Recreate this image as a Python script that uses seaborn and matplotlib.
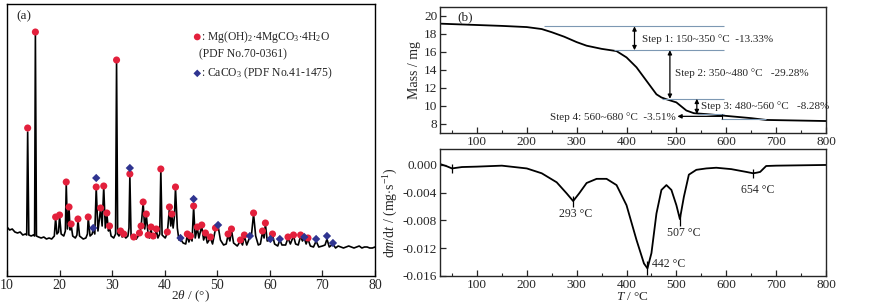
import numpy as np
import pandas as pd
import matplotlib
matplotlib.use("Agg")
import matplotlib.pyplot as plt
import seaborn as sns

# ---------------- data: XRD (a) ----------------
xrd_2theta = [10.0, 10.5, 11.0, 11.5, 12.0, 12.5, 13.0, 13.5, 13.75, 13.93, 14.15, 14.6, 15.0, 15.25, 15.4, 15.6,
              16.0, 16.5, 17.0, 17.5, 18.0, 18.5, 19.0, 19.25, 19.5, 19.8, 20.0, 20.3, 20.8, 21.1, 21.27, 21.5,
              21.8, 22.0, 22.2, 22.5, 23.0, 23.3, 23.5, 23.8, 24.5, 25.0, 25.3, 25.45, 25.8, 26.2, 26.4, 26.7,
              26.97, 27.3, 27.8, 28.1, 28.4, 28.7, 29.0, 29.3, 29.5, 29.8, 30.3, 30.65, 30.84, 31.05, 31.3,
              31.6, 31.9, 32.2, 32.6, 33.0, 33.2, 33.37, 33.6, 34.1, 34.6, 35.2, 35.5, 35.9, 36.2, 36.5, 36.85,
              37.1, 37.4, 37.6, 37.8, 38.1, 38.4, 38.7, 39.05, 39.26, 39.5, 40.1, 40.5, 40.9, 41.15, 41.35,
              41.6, 41.85, 42.05, 42.4, 42.7, 43.0, 43.5, 44.0, 44.3, 44.6, 44.9, 45.2, 45.5, 45.8, 46.2, 46.5,
              47.05, 47.4, 47.75, 48.1, 48.7, 49.1, 49.65, 50.15, 50.6, 51.2, 51.7, 52.05, 52.4, 52.7, 53.1,
              53.8, 54.4, 54.8, 55.15, 55.6, 56.2, 56.5, 56.9, 57.3, 57.8, 58.2, 58.6, 58.9, 59.15, 59.5, 60.1,
              60.5, 60.9, 61.5, 61.9, 62.3, 63.0, 63.45, 63.9, 64.5, 64.9, 65.4, 65.85, 66.2, 66.55, 66.9,
              67.25, 67.7, 68.3, 68.8, 69.3, 70.0, 70.5, 70.86, 71.3, 72.0, 72.5, 73.0, 73.5, 74.0, 74.5, 75.0,
              75.5, 76.0, 76.5, 77.0, 77.5, 78.0, 78.5, 79.0, 79.5, 80.0]
xrd_intensity = [49, 46, 47, 44, 43, 44, 41, 42, 41, 144, 41, 40, 41, 40, 241, 40,
                 39, 38, 39, 37, 38, 37, 40, 58, 42, 44, 60, 42, 40, 45, 92, 47,
                 68, 46, 51, 40, 38, 41, 56, 40, 37, 38, 42, 58, 40, 42, 47, 42,
                 88, 45, 67, 50, 89, 48, 62, 45, 49, 40, 38, 42, 214, 42, 40,
                 44, 39, 41, 38, 40, 48, 100, 40, 38, 37, 42, 49, 73, 47, 61, 41,
                 38, 48, 39, 40, 38, 46, 38, 42, 106, 41, 38, 43, 68, 50, 61,
                 48, 60, 88, 48, 36, 37, 33, 32, 41, 34, 39, 35, 69, 38, 48, 38,
                 50, 36, 42, 33, 38, 32, 47, 50, 36, 31, 32, 41, 35, 46, 33,
                 30, 35, 31, 40, 31, 39, 41, 62, 40, 31, 32, 44, 38, 52, 35, 36,
                 41, 32, 30, 36, 31, 31, 38, 32, 40, 32, 31, 40, 35, 38, 32,
                 37, 30, 29, 35, 29, 30, 31, 37, 29, 32, 28, 30, 29, 28, 29, 30,
                 29, 28, 29, 30, 28, 29, 29, 28, 28, 29]

mg_peaks_2theta = [13.93, 15.4, 19.25, 20.0, 21.27, 21.8, 22.2, 23.5, 25.45, 26.97, 27.8, 28.4, 29.0, 29.5,
                   30.84, 31.6, 32.2, 33.37, 34.1, 35.2, 35.5, 35.9, 36.5, 36.85, 37.4, 37.8, 38.4, 39.26,
                   40.5, 40.9, 41.35, 42.05, 44.3, 44.9, 45.5, 46.2, 47.05, 47.75, 48.7, 49.65, 52.05,
                   52.7, 54.4, 55.15, 56.9, 58.6, 59.15, 60.5, 63.45, 64.5, 65.85, 67.25]
mg_peaks_int = [148, 244, 59, 61, 94, 69, 52, 57, 59, 89, 68, 90, 63, 50,
                216, 45, 42, 102, 39, 43, 50, 74, 62, 41, 49, 40, 47, 107,
                44, 69, 62, 89, 42, 40, 70, 49, 51, 43, 39, 48, 42,
                47, 36, 41, 63, 45, 53, 42, 39, 41, 41, 38]
ca_peaks_2theta = [26.4, 26.97, 33.37, 43.0, 45.5, 50.15, 56.2, 60.1, 61.9, 66.55, 68.8, 70.86, 72.0]
ca_peaks_int = [48, 98, 108, 38, 77, 51, 40, 37, 37, 39, 37, 40, 33]

# ---------------- data: TG (b, top) ----------------
tg_T = [26, 50, 100, 150, 200, 230, 250, 275, 300, 320, 350, 380, 400, 420, 440, 460, 470, 480,
        500, 520, 535, 560, 600, 650, 680, 700, 750, 800]
tg_mass = [19.15, 19.1, 19.0, 18.9, 18.77, 18.55, 18.2, 17.7, 17.1, 16.7, 16.35, 16.1, 15.4, 14.3,
           12.8, 11.3, 10.95, 10.75, 10.4, 9.5, 9.2, 9.1, 8.9, 8.65, 8.45, 8.43, 8.38, 8.33]

step_levels = [18.85, 16.2, 10.8, 9.1]
step_line_start = [234, 375, 472, 543]
step_labels = ["Step 1: 150~350 °C  -13.33%", "Step 2: 350~480 °C   -29.28%",
               "Step 3: 480~560 °C   -8.28%", "Step 4: 560~680 °C  -3.51%"]

# ---------------- data: DTG (b, bottom) ----------------
dtg_T = [26, 40, 50, 60, 70, 100, 150, 200, 230, 260, 280, 293, 305, 320, 340, 360, 380, 400, 420,
         435, 442, 450, 460, 470, 480, 490, 500, 507, 515, 525, 540, 560, 580, 610, 640, 654, 662,
         668, 680, 700, 750, 800]
dtg_val = [0.00014, -0.0002, -0.0005, -0.0004, -0.0003, -0.00024, -0.0001, -0.0005, -0.0012, -0.0025,
           -0.0041, -0.0052, -0.0041, -0.0026, -0.002, -0.002, -0.0029, -0.0058, -0.0108,
           -0.0142, -0.0149, -0.0127, -0.0070, -0.0036, -0.0029, -0.0036, -0.0058, -0.0078, -0.0046,
           -0.0014, -0.0007, -0.0005, -0.0004, -0.0006, -0.001, -0.0012, -0.0011,
           -0.001, -0.00015, -0.0001, -0.00005, 0.0]
dtg_peak_T = [293, 442, 507, 654]
dtg_peak_labels = ["293 °C", "442 °C", "507 °C", "654 °C"]

# ---------------- style ----------------
sns.set_theme(style="ticks")
plt.rcParams["font.family"] = ["Liberation Serif", "DejaVu Serif"]
plt.rcParams["mathtext.fontset"] = "custom"
plt.rcParams["mathtext.rm"] = "Liberation Serif"
plt.rcParams["mathtext.it"] = "Liberation Serif:italic"
plt.rcParams["xtick.direction"] = "in"
plt.rcParams["ytick.direction"] = "in"
plt.rcParams["axes.linewidth"] = 1.0

W, H = 878, 306
fig = plt.figure(figsize=(W / 100, H / 100), dpi=100)
fig.patch.set_facecolor("white")

def rect(l, t, r, b):
    return [l / W, (H - b) / H, (r - l) / W, (b - t) / H]

RED = "#e3203c"
BLUE = "#2f3490"

# ---- (a) XRD ----
axa = fig.add_axes(rect(7, 4, 375, 276))
xrd = pd.DataFrame({"x": xrd_2theta, "y": xrd_intensity})
sns.lineplot(data=xrd, x="x", y="y", ax=axa, color="black", lw=1.2, sort=False, estimator=None)
sns.scatterplot(x=mg_peaks_2theta, y=mg_peaks_int, ax=axa, color=RED, marker="o", s=26,
                edgecolor="none", zorder=5)
sns.scatterplot(x=ca_peaks_2theta, y=ca_peaks_int, ax=axa, color=BLUE, marker="D", s=18,
                edgecolor="none", zorder=6)
axa.set_xlim(10, 80)
axa.set_ylim(0, 272)
axa.set_xticks([10, 20, 30, 40, 50, 60, 70, 80])
axa.set_yticks([])
axa.tick_params(axis="x", labelsize=10, length=4, width=0.9, pad=2, top=False)
axa.set_xlabel("2$\\it{\\theta}$ / (°)", fontsize=9.5)
axa.xaxis.set_label_coords(0.5, -0.048)
axa.set_ylabel("")
for s in axa.spines.values():
    s.set_visible(True)
    s.set_color("black")
axa.text(0.025, 0.955, "(a)", transform=axa.transAxes, fontsize=9.5, va="center", ha="left")
# legend
axa.scatter([0.517], [0.879], transform=axa.transAxes, color=RED, s=24, marker="o", edgecolor="none")
axa.text(0.526, 0.879, ": Mg(OH)$_2$$\\cdot$4MgCO$_3$$\\cdot$4H$_2$O", transform=axa.transAxes,
         fontsize=8.4, va="center", ha="left")
axa.text(0.522, 0.815, "(PDF No.70-0361)", transform=axa.transAxes, fontsize=8.4, va="center", ha="left")
axa.scatter([0.517], [0.745], transform=axa.transAxes, color=BLUE, s=15, marker="D", edgecolor="none")
axa.text(0.526, 0.745, ": CaCO$_3$ (PDF No.41-1475)", transform=axa.transAxes,
         fontsize=8.4, va="center", ha="left")

# ---- (b) TG ----
axt = fig.add_axes(rect(440, 7, 826, 133))
sns.lineplot(x=tg_T, y=tg_mass, ax=axt, color="black", lw=1.3, sort=False, estimator=None)
axt.set_xlim(26, 800)
axt.set_ylim(7, 21)
axt.set_xticks([100, 200, 300, 400, 500, 600, 700, 800])
axt.set_xticks(np.arange(50, 800, 100), minor=True)
axt.set_yticks([8, 10, 12, 14, 16, 18, 20])
axt.tick_params(axis="both", labelsize=9.5, length=4, width=0.9, pad=2)
axt.tick_params(axis="x", which="minor", length=2.5, width=0.8)
axt.set_ylabel("Mass / mg", fontsize=10, labelpad=2)
axt.set_xlabel("")
axt.text(0.045, 0.92, "(b)", transform=axt.transAxes, fontsize=9.5, va="center", ha="left")
LC = "#7d98b3"
for lvl, x0 in zip(step_levels[:3], step_line_start[:3]):
    axt.hlines(lvl, x0, 596, color=LC, lw=0.8)
axt.hlines(9.1, 543, 596, color=LC, lw=0.8)
axt.hlines(8.55, 590, 680, color=LC, lw=0.8)
axt.vlines(592, 8.55, 9.1, color="black", lw=0.8)
arrow_kw = dict(arrowstyle="<|-|>", color="black", lw=0.9, mutation_scale=6, shrinkA=0, shrinkB=0)
axt.annotate("", xy=(416, step_levels[0]), xytext=(416, step_levels[1]), arrowprops=arrow_kw)
axt.annotate("", xy=(487, step_levels[1]), xytext=(487, step_levels[2]), arrowprops=arrow_kw)
axt.annotate("", xy=(541, step_levels[2]), xytext=(541, step_levels[3]), arrowprops=arrow_kw)
axt.annotate("", xy=(502, 8.85), xytext=(592, 8.85),
             arrowprops=dict(arrowstyle="-|>", color="black", lw=0.9, mutation_scale=6,
                             shrinkA=0, shrinkB=0))
axt.text(432, 17.47, step_labels[0], fontsize=8, va="center", ha="left")
axt.text(497, 13.64, step_labels[1], fontsize=8, va="center", ha="left")
axt.text(550, 10.0, step_labels[2], fontsize=8, va="center", ha="left")
axt.text(498, 8.8, step_labels[3], fontsize=8, va="center", ha="right")

# ---- (b) DTG ----
axd = fig.add_axes(rect(440, 149, 826, 276))
sns.lineplot(x=dtg_T, y=dtg_val, ax=axd, color="black", lw=1.3, sort=False, estimator=None)
axd.set_xlim(26, 800)
axd.set_ylim(-0.016, 0.0023)
axd.set_xticks([100, 200, 300, 400, 500, 600, 700, 800])
axd.set_xticks(np.arange(50, 800, 100), minor=True)
axd.set_yticks([0.0, -0.004, -0.008, -0.012, -0.016])
axd.set_yticklabels(["0.000", "-0.004", "-0.008", "-0.012", "-0.016"])
axd.tick_params(axis="both", labelsize=9.5, length=4, width=0.9, pad=2)
axd.tick_params(axis="x", which="minor", length=2.5, width=0.8)
axd.set_ylabel("d$\\it{m}$/d$\\it{t}$ / (mg$\\cdot$s$^{-1}$)", fontsize=10, labelpad=2)
axd.set_xlabel("$\\it{T}$ / °C", fontsize=9.5, labelpad=0)
axd.vlines(50, -0.0012, 0.0002, color="black", lw=0.9)
axd.vlines(293, -0.006, -0.0045, color="black", lw=0.9)
axd.vlines(442, -0.0158, -0.0139, color="black", lw=0.9)
axd.vlines(507, -0.0088, -0.0072, color="black", lw=0.9)
axd.vlines(654, -0.0019, -0.0006, color="black", lw=0.9)
axd.text(298, -0.0070, dtg_peak_labels[0], fontsize=8.5, va="center", ha="center")
axd.text(451, -0.0143, dtg_peak_labels[1], fontsize=8.5, va="center", ha="left")
axd.text(515, -0.00975, dtg_peak_labels[2], fontsize=8.5, va="center", ha="center")
axd.text(663, -0.0036, dtg_peak_labels[3], fontsize=8.5, va="center", ha="center")

fig.savefig("out.png", dpi=100, facecolor="white")
